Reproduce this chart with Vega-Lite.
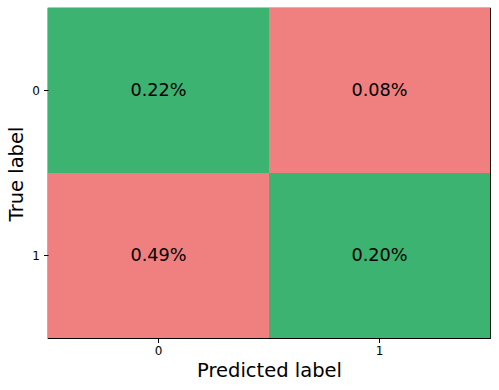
{
  "$schema": "https://vega.github.io/schema/vega-lite/v6.json",
  "width": 442,
  "height": 330,
  "autosize": {"type": "none"},
  "padding": {"left": 48, "top": 8, "right": 9, "bottom": 52},
  "config": {
    "font": "DejaVu Sans",
    "view": {"stroke": "black", "strokeWidth": 1.2},
    "axis": {"domain": false, "grid": false, "tickColor": "black", "tickSize": 4.5, "labelColor": "black", "titleColor": "black", "labelFontSize": 12, "titleFontWeight": "normal", "titleFontSize": 19.5}
  },
  "data": {"values": [
    {"true": "0", "pred": "0", "value": "0.22%", "correct": "yes"},
    {"true": "0", "pred": "1", "value": "0.08%", "correct": "no"},
    {"true": "1", "pred": "0", "value": "0.49%", "correct": "no"},
    {"true": "1", "pred": "1", "value": "0.20%", "correct": "yes"}
  ]},
  "encoding": {
    "x": {"field": "pred", "type": "nominal", "title": "Predicted label", "scale": {"paddingInner": 0, "paddingOuter": 0}, "axis": {"labelAngle": 0, "labelPadding": 3, "titlePadding": 5}},
    "y": {"field": "true", "type": "nominal", "title": "True label", "scale": {"paddingInner": 0, "paddingOuter": 0}, "axis": {"labelPadding": 4, "titleX": -26, "titleY": 165.5, "titleBaseline": "alphabetic", "titleAngle": -90, "titleAlign": "center"}}
  },
  "layer": [
    {"mark": {"type": "rect"}, "encoding": {"color": {"field": "correct", "type": "nominal", "scale": {"domain": ["yes", "no"], "range": ["#3cb371", "#f08080"]}, "legend": null}}},
    {"mark": {"type": "text", "fontSize": 17.7, "color": "black"}, "encoding": {"text": {"field": "value"}}}
  ]
}
